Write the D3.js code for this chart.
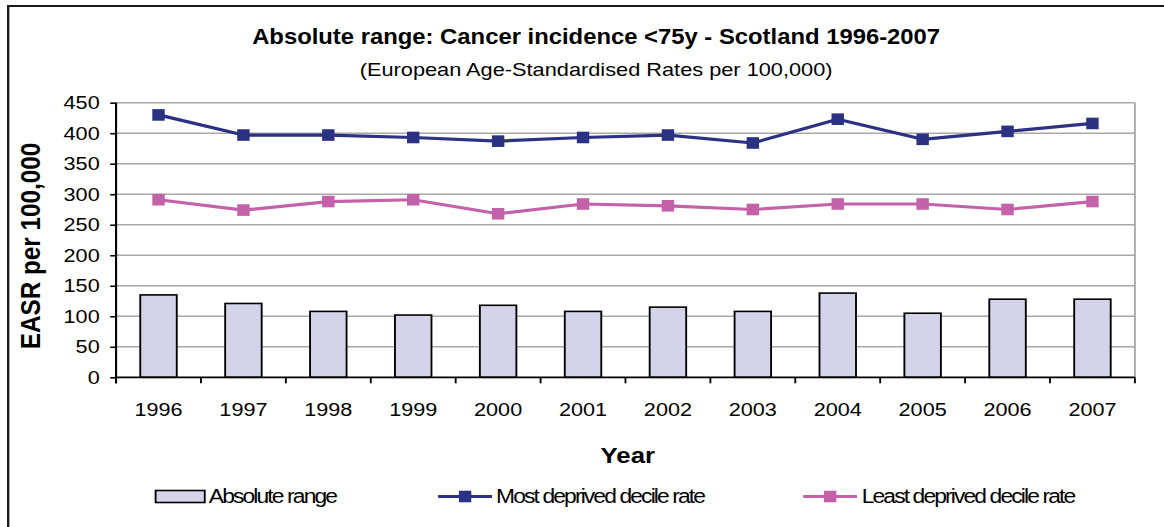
<!DOCTYPE html>
<html>
<head>
<meta charset="utf-8">
<script src="https://cdn.jsdelivr.net/npm/d3@7"></script>
<style>
  html, body { margin: 0; padding: 0; background: #fff; overflow: hidden; }
  text { font-family: "Liberation Sans", Arial, sans-serif; fill: #000; }
</style>
</head>
<body>
<svg id="chart"></svg>
<script>
// Years on the category axis
const years = ["1996", "1997", "1998", "1999", "2000", "2001", "2002", "2003", "2004", "2005", "2006", "2007"];
// EASR per 100,000
const absoluteRange = [135, 121, 108, 102, 118, 108, 115, 108, 138, 105, 128, 128];
const mostDeprived  = [430, 397, 397, 393, 387, 393, 397, 384, 423, 390, 403, 416];
const leastDeprived = [291, 274, 288, 291, 268, 284, 281, 275, 284, 284, 275, 288];
const yTicks = [0, 50, 100, 150, 200, 250, 300, 350, 400, 450];
const seriesNames = ["Absolute range", "Most deprived decile rate", "Least deprived decile rate"];

const W = 1164, H = 527;
const stretch = 1.17;          // the chart is drawn a little wide
const VW = W / stretch;

const colors = { bar: "#d4d3e9", most: "#2b3183", least: "#c361a9", grid: "#a8a8a8" };

const svg = d3.select("#chart")
  .attr("width", W).attr("height", H)
  .attr("viewBox", `0 0 ${VW} ${H}`)
  .attr("preserveAspectRatio", "none");

// outer frame
svg.append("rect")
  .attr("x", 7).attr("y", 6).attr("width", VW + 50).attr("height", H + 50)
  .attr("fill", "none").attr("stroke", "#1a1a1a").attr("stroke-width", 2);

const plot = { left: 99.2, right: 970, top: 102.7, bottom: 377.3 };

const x = d3.scaleBand().domain(years).range([plot.left, plot.right]);
const y = d3.scaleLinear().domain([0, 450]).range([plot.bottom, plot.top]);
const bw = x.bandwidth();
const cx = d => x(d) + bw / 2;

// gridlines
svg.append("g")
  .selectAll("line").data(yTicks.filter(t => t > 0)).join("line")
  .attr("x1", plot.left).attr("x2", plot.right)
  .attr("y1", d => y(d)).attr("y2", d => y(d))
  .attr("stroke", colors.grid).attr("stroke-width", 1.6);

// right border of the plot area
svg.append("line")
  .attr("x1", plot.right).attr("x2", plot.right)
  .attr("y1", plot.top).attr("y2", plot.bottom)
  .attr("stroke", colors.grid).attr("stroke-width", 1.6);

// bars: absolute range
svg.append("g")
  .selectAll("rect").data(years).join("rect")
  .attr("x", d => cx(d) - bw * 0.215)
  .attr("width", bw * 0.43)
  .attr("y", (d, i) => y(absoluteRange[i]))
  .attr("height", (d, i) => y(0) - y(absoluteRange[i]))
  .attr("fill", colors.bar).attr("stroke", "#000").attr("stroke-width", 1.6);

// y axis
const yAxis = svg.append("g")
  .attr("transform", `translate(${plot.left},0)`)
  .call(d3.axisLeft(y).tickValues(yTicks).tickSize(5).tickSizeOuter(0).tickPadding(9));
yAxis.select(".domain").attr("stroke", "#000").attr("stroke-width", 1.8)
  .attr("d", `M0,${plot.top}V${plot.bottom + 6}`);
yAxis.selectAll(".tick line").attr("stroke", "#000").attr("stroke-width", 1.6);
yAxis.selectAll(".tick text")
  .style("font-family", '"Liberation Sans", Arial, sans-serif')
  .style("font-size", "18.5px").attr("fill", "#000");

// x axis: labels at category centres, tick marks on category boundaries
const xAxis = svg.append("g")
  .attr("transform", `translate(0,${plot.bottom})`)
  .call(d3.axisBottom(x).tickSize(0).tickPadding(26));
xAxis.select(".domain").attr("stroke", "#000").attr("stroke-width", 1.8)
  .attr("d", `M${plot.left},0H${plot.right}`);
xAxis.selectAll(".tick text")
  .style("font-family", '"Liberation Sans", Arial, sans-serif')
  .style("font-size", "18.5px").attr("fill", "#000");
xAxis.append("g")
  .selectAll("line").data(years.map(x).concat([plot.right])).join("line")
  .attr("x1", d => d).attr("x2", d => d)
  .attr("y1", 0).attr("y2", 6)
  .attr("stroke", "#000").attr("stroke-width", 1.6);

// lines with square markers
function drawSeries(values, color) {
  const g = svg.append("g");
  g.append("path")
    .datum(values)
    .attr("fill", "none").attr("stroke", color).attr("stroke-width", 3.2)
    .attr("stroke-linejoin", "round")
    .attr("d", d3.line().x((d, i) => cx(years[i])).y(d => y(d)));
  g.selectAll("rect").data(values).join("rect")
    .attr("x", (d, i) => cx(years[i]) - 5.3)
    .attr("y", d => y(d) - 5.8)
    .attr("width", 10.6).attr("height", 11.6)
    .attr("fill", color);
}
drawSeries(leastDeprived, colors.least);
drawSeries(mostDeprived, colors.most);

// titles
svg.append("text")
  .attr("x", 509.5).attr("y", 44.5)
  .attr("text-anchor", "middle")
  .attr("textLength", 588).attr("lengthAdjust", "spacingAndGlyphs")
  .style("font-size", "22.5px").style("font-weight", "bold")
  .text("Absolute range: Cancer incidence <75y - Scotland 1996-2007");
svg.append("text")
  .attr("x", 509.5).attr("y", 76)
  .attr("text-anchor", "middle")
  .style("font-size", "18.6px")
  .text("(European Age-Standardised Rates per 100,000)");

svg.append("text")
  .attr("transform", `translate(34,246) rotate(-90)`)
  .attr("text-anchor", "middle")
  .style("font-size", "24.3px").style("font-weight", "bold")
  .text("EASR per 100,000");

svg.append("text")
  .attr("x", (plot.left + plot.right) / 2 + 2).attr("y", 463)
  .attr("text-anchor", "middle")
  .style("font-size", "22px").style("font-weight", "bold")
  .text("Year");

// legend
const legendY = 496.5;
const leg = svg.append("g");
leg.append("rect")
  .attr("x", 133).attr("y", legendY - 6).attr("width", 42).attr("height", 12)
  .attr("fill", colors.bar).attr("stroke", "#000").attr("stroke-width", 1.6);

const lineItems = [
  { x0: 374.5, color: colors.most },
  { x0: 686.5, color: colors.least }
];
lineItems.forEach(it => {
  leg.append("line")
    .attr("x1", it.x0).attr("x2", it.x0 + 46)
    .attr("y1", legendY).attr("y2", legendY)
    .attr("stroke", it.color).attr("stroke-width", 3.2);
  leg.append("rect")
    .attr("x", it.x0 + 23 - 5.3).attr("y", legendY - 5.8)
    .attr("width", 10.6).attr("height", 11.6).attr("fill", it.color);
});

const legendTextX = [178.5, 424, 736.5];
leg.selectAll("text.lbl").data(seriesNames).join("text")
  .attr("class", "lbl")
  .attr("x", (d, i) => legendTextX[i]).attr("y", legendY + 7)
  .style("font-size", "19.5px").style("letter-spacing", "-1.6px")
  .text(d => d);
</script>
</body>
</html>
